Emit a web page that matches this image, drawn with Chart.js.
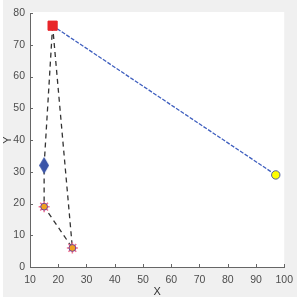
<!DOCTYPE html>
<html><head><meta charset="utf-8">
<script src="https://cdn.jsdelivr.net/npm/chart.js@4/dist/chart.umd.min.js"></script>
<style>html,body{margin:0;padding:0;background:#fff;}#wrap{width:300px;height:301px;}</style>
</head><body><div id="wrap"><canvas id="c" width="300" height="301"></canvas></div>
<script>
// Data
const polyX = [18, 15, 15, 25, 18];
const polyY = [76, 32, 19, 6, 76];
const blueLineX = [18, 97];
const blueLineY = [76, 29];
const squareX = [18], squareY = [76];
const diamondX = [15], diamondY = [32];
const starX = [15, 25], starY = [19, 6];
const circleX = [97], circleY = [29];
const xTicks = [10, 20, 30, 40, 50, 60, 70, 80, 90, 100];
const yTicks = [0, 10, 20, 30, 40, 50, 60, 70, 80];

const pts = (xs, ys) => xs.map((x, i) => ({x, y: ys[i]}));

// custom elongated diamond marker
const dia = document.createElement('canvas');
dia.width = 10; dia.height = 17;
{
  const g = dia.getContext('2d');
  g.fillStyle = '#3b55a8';
  g.beginPath(); g.moveTo(5, 0); g.lineTo(10, 8.5); g.lineTo(5, 17); g.lineTo(0, 8.5); g.closePath(); g.fill();
}

const bgPlugin = {
  id: 'bg',
  beforeDraw(chart) {
    const ctx = chart.ctx, a = chart.chartArea;
    ctx.save();
    ctx.fillStyle = '#ffffff'; ctx.fillRect(0, 0, chart.width, chart.height);
    ctx.fillStyle = '#f0f0f0'; ctx.fillRect(3, 0, 294, 297);
    ctx.fillStyle = '#ffffff'; ctx.fillRect(a.left, a.top - 1, a.right - a.left, a.bottom - a.top + 1);
    ctx.restore();
  },
  afterDraw(chart) {
    const ctx = chart.ctx, xs = chart.scales.x, ys = chart.scales.y;
    ctx.save();
    ctx.strokeStyle = '#666'; ctx.lineWidth = 1;
    ctx.beginPath();
    xTicks.forEach(v => { const p = Math.round(xs.getPixelForValue(v)) + 0.5; ctx.moveTo(p, ys.bottom); ctx.lineTo(p, ys.bottom - 3); });
    yTicks.forEach(v => { const p = Math.round(ys.getPixelForValue(v)) + 0.5; ctx.moveTo(xs.left, p); ctx.lineTo(xs.left + 3, p); });
    ctx.stroke();
    ctx.restore();
  }
};

const font = {family: "'Liberation Sans', Arial, sans-serif", size: 10.5};
new Chart(document.getElementById('c'), {
  type: 'scatter',
  data: {
    datasets: [
      {data: pts(polyX, polyY), showLine: true, borderColor: '#333', borderWidth: 1.3, borderDash: [5, 4], pointRadius: 0, order: 10},
      {data: pts(blueLineX, blueLineY), showLine: true, borderColor: '#3f5fbf', borderWidth: 1.3, borderDash: [4, 1.5], pointRadius: 0, order: 9},
      {data: pts(squareX, squareY), pointStyle: 'rect', pointRadius: 6.5, backgroundColor: '#e8262b', borderColor: '#e8262b', borderWidth: 1, order: 1},
      {data: pts(diamondX, diamondY), pointStyle: dia, order: 1},
      {data: pts(starX, starY), pointStyle: 'star', pointRadius: 5.5, borderColor: '#f07090', borderWidth: 1.5, backgroundColor: '#f07090', order: 3},
      {data: pts(starX, starY), pointStyle: 'circle', pointRadius: 3.4, backgroundColor: '#f0a020', borderColor: '#7040a0', borderWidth: 1, order: 2},
      {data: pts(circleX, circleY), pointStyle: 'circle', pointRadius: 4.2, backgroundColor: '#ffff00', borderColor: '#5060a0', borderWidth: 1, order: 1}
    ]
  },
  options: {
    responsive: false, animation: false, maintainAspectRatio: false,
    layout: {padding: {top: 13, right: 9, left: 0, bottom: 0}},
    plugins: {legend: {display: false}, tooltip: {enabled: false}},
    scales: {
      x: {
        type: 'linear', min: 10, max: 100,
        afterBuildTicks: s => { s.ticks = xTicks.map(v => ({value: v})); },
        afterFit: s => { s.height = 34; },
        grid: {display: false, drawTicks: false},
        border: {display: true, color: '#666', width: 1},
        ticks: {color: '#4d4d4d', font, padding: 7, maxRotation: 0, autoSkip: false},
        title: {display: true, text: 'X', color: '#333', font: {family: font.family, size: 11}, padding: {top: 0, bottom: 2.4}}
      },
      y: {
        type: 'linear', min: 0, max: 80,
        afterBuildTicks: s => { s.ticks = yTicks.map(v => ({value: v})); },
        afterFit: s => { s.width = 30; },
        grid: {display: false, drawTicks: false},
        border: {display: true, color: '#666', width: 1},
        ticks: {color: '#4d4d4d', font, padding: 5, autoSkip: false},
        title: {display: true, text: 'Y', color: '#333', font: {family: font.family, size: 11}, padding: {top: 1.4, bottom: 0}}
      }
    }
  },
  plugins: [bgPlugin]
});
</script></body></html>
